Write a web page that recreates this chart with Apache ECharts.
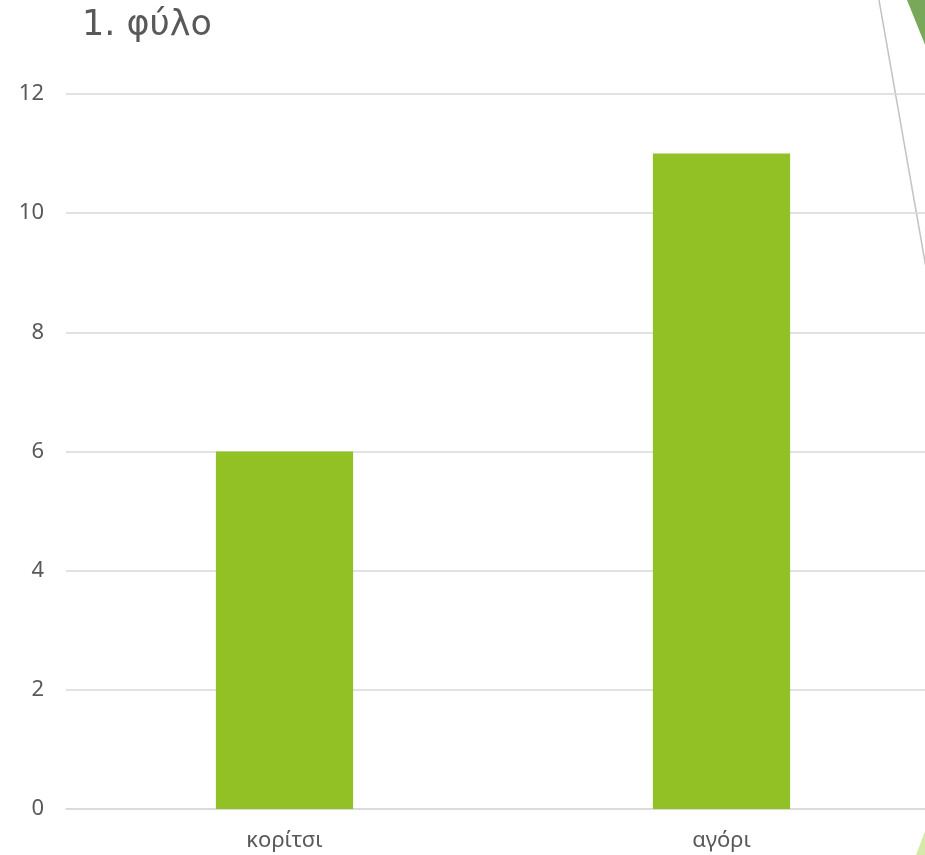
<!DOCTYPE html>
<html>
<head>
<meta charset="utf-8">
<script src="https://cdn.jsdelivr.net/npm/echarts@6/dist/echarts.min.js"></script>
<style>
html,body{margin:0;padding:0;background:#fff;overflow:hidden;width:925px;height:855px;}
#chart{width:940px;height:855px;}
</style>
</head>
<body>
<div id="chart"></div>
<script>
const titleText = "1. φύλο";
const categories = ["κορίτσι", "αγόρι"];
const values = [6, 11];
const yMin = 0, yMax = 12, yInterval = 2;

const chart = echarts.init(document.getElementById('chart'), null, {renderer: 'canvas'});
const labelFont = "Noto Sans";
chart.setOption({
  backgroundColor: '#ffffff',
  animation: false,
  title: {
    text: titleText,
    left: 77, top: 3,
    textStyle: {fontFamily: "DejaVu Sans", fontSize: 35, fontWeight: 'normal', color: '#595959'}
  },
  grid: {left: 66, right: 0, top: 94, bottom: 46, containLabel: false},
  xAxis: {
    type: 'category',
    data: categories,
    axisLine: {show: true, lineStyle: {color: '#d9d9d9', width: 1.5}},
    axisTick: {show: false},
    axisLabel: {fontFamily: labelFont, fontSize: 22, color: '#595959', margin: 21}
  },
  yAxis: {
    type: 'value',
    min: yMin, max: yMax, interval: yInterval,
    axisLine: {show: false},
    axisTick: {show: false},
    splitLine: {lineStyle: {color: '#d9d9d9', width: 1.5}},
    axisLabel: {fontFamily: labelFont, fontSize: 22, color: '#595959', margin: 22, padding: [2, 0, 0, 0]}
  },
  series: [{
    type: 'bar',
    data: values,
    barWidth: '31.4%',
    itemStyle: {color: '#92c125'}
  }],
  graphic: [
    {type: 'polygon', shape: {points: [[907,0],[940,0],[940,82]]}, style: {fill: '#79a85a'}},
    {type: 'line', shape: {x1: 879, y1: 0, x2: 928, y2: 279}, style: {stroke: '#c3c3c3', lineWidth: 1.5}},
    {type: 'polygon', shape: {points: [[927,826],[930,855],[916,855]]}, style: {fill: '#d6e9a8'}}
  ]
});
</script>
</body>
</html>
